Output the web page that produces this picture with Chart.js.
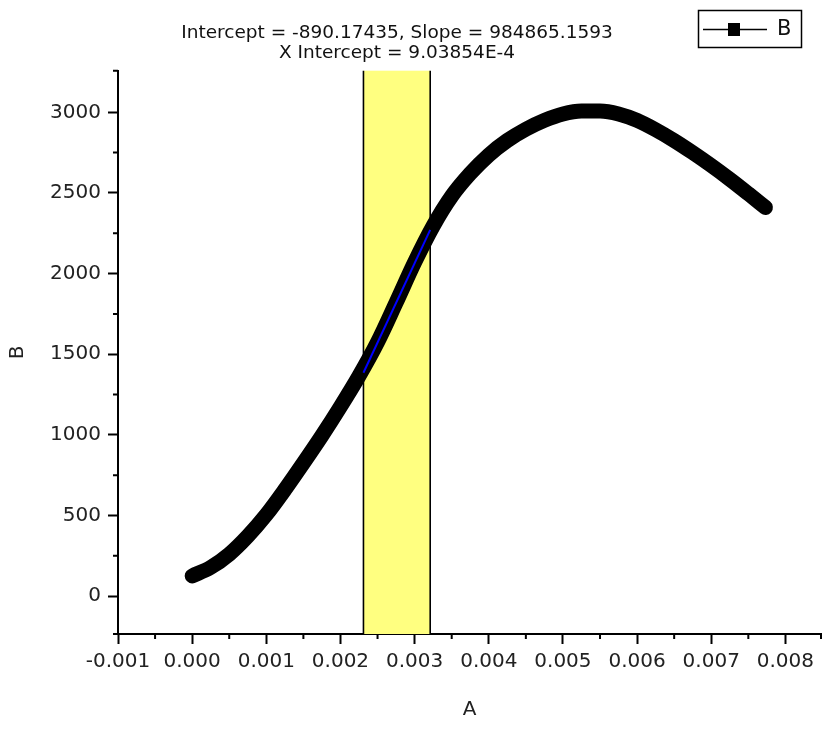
<!DOCTYPE html>
<html>
<head>
<meta charset="utf-8">
<script src="https://cdn.jsdelivr.net/npm/chart.js@4.4.1/dist/chart.umd.min.js"></script>
<style>
  html, body { margin: 0; padding: 0; background: #fff; }
</style>
</head>
<body>
<canvas id="fitChart" width="827" height="731"></canvas>
<script>
// measured curve (A vs B)
const xValues = [0, 0.00025, 0.0005, 0.00075, 0.001, 0.00125, 0.0015, 0.00175, 0.002, 0.00225,
  0.0025, 0.00275, 0.003, 0.00325, 0.0035, 0.00375, 0.004, 0.00425, 0.0045, 0.00475,
  0.005, 0.00525, 0.0055, 0.00575, 0.006, 0.00625, 0.0065, 0.00675, 0.007, 0.00725, 0.0075, 0.00773];
const yValues = [125, 178, 260, 372, 505, 660, 825, 995, 1175, 1365,
  1575, 1820, 2070, 2295, 2480, 2620, 2735, 2825, 2895, 2950,
  2990, 3008, 3008, 2990, 2950, 2892, 2825, 2750, 2670, 2585, 2495, 2410];

// linear fit over the selected range
const fitX = [0.00231, 0.00321];
const fitY = [1385, 2271];
const bandRange = [0.00231, 0.00321];

const titleLines = ['Intercept = -890.17435, Slope = 984865.1593', 'X Intercept = 9.03854E-4'];

const xRange = [-0.001, 0.00848];
const yRange = [-235, 3258];
const xTicks = [-0.001, 0, 0.001, 0.002, 0.003, 0.004, 0.005, 0.006, 0.007, 0.008];
const xTickLabels = ['-0.001', '0.000', '0.001', '0.002', '0.003', '0.004', '0.005', '0.006', '0.007', '0.008'];
const xMinor = [-0.0005, 0.0005, 0.0015, 0.0025, 0.0035, 0.0045, 0.0055, 0.0065, 0.0075, 0.00848];
const yTicks = [0, 500, 1000, 1500, 2000, 2500, 3000];
const yTickLabels = ['0', '500', '1000', '1500', '2000', '2500', '3000'];
const yMinor = [-235, 250, 750, 1250, 1750, 2250, 2750, 3258];

const FONT = 'DejaVu Sans';

// yellow selection band behind the data
const bandPlugin = {
  id: 'band',
  beforeDatasetsDraw(chart) {
    const { ctx, chartArea, scales: { x } } = chart;
    const l = x.getPixelForValue(bandRange[0]);
    const r = x.getPixelForValue(bandRange[1]);
    ctx.save();
    ctx.fillStyle = '#ffff80';
    ctx.fillRect(l, chartArea.top, r - l, chartArea.bottom - chartArea.top);
    ctx.strokeStyle = '#000';
    ctx.lineWidth = 1.6;
    ctx.beginPath();
    ctx.moveTo(l, chartArea.top); ctx.lineTo(l, chartArea.bottom);
    ctx.moveTo(r, chartArea.top); ctx.lineTo(r, chartArea.bottom);
    ctx.stroke();
    ctx.restore();
  }
};

// short minor ticks, Origin style
const minorTicks = {
  id: 'minorTicks',
  afterDraw(chart) {
    const { ctx, chartArea, scales: { x, y } } = chart;
    ctx.save();
    ctx.strokeStyle = '#000';
    ctx.lineWidth = 2;
    ctx.beginPath();
    xMinor.forEach(v => {
      const px = x.getPixelForValue(v);
      ctx.moveTo(px, chartArea.bottom);
      ctx.lineTo(px, chartArea.bottom + 5);
    });
    yMinor.forEach(v => {
      const py = y.getPixelForValue(v);
      ctx.moveTo(chartArea.left, py);
      ctx.lineTo(chartArea.left - 5, py);
    });
    ctx.stroke();
    ctx.restore();
  }
};

// boxed legend in the top right corner
const boxLegend = {
  id: 'boxLegend',
  afterDraw(chart) {
    const ds = chart.data.datasets[1];
    const { ctx } = chart;
    ctx.save();
    ctx.strokeStyle = '#000';
    ctx.lineWidth = 1.5;
    ctx.strokeRect(698.5, 10.5, 103, 37);
    ctx.beginPath();
    ctx.moveTo(703, 29.5);
    ctx.lineTo(767, 29.5);
    ctx.stroke();
    ctx.fillStyle = ds.borderColor;
    ctx.fillRect(728, 23, 12, 13);
    ctx.fillStyle = '#111';
    ctx.font = '21px "' + FONT + '"';
    ctx.textBaseline = 'middle';
    ctx.fillText(ds.label, 777, 30);
    ctx.restore();
  }
};

// title is centred over the plot, not the canvas
const titleShift = {
  id: 'titleShift',
  afterLayout(chart) {
    const t = chart.titleBlock;
    if (t) t.right = t.left + 794;
  }
};

const ctx = document.getElementById('fitChart').getContext('2d');

const fitChart = new Chart(ctx, {
  type: 'line',
  data: {
    datasets: [
      {
        label: 'Linear Fit',
        data: fitX.map((x, i) => ({ x: x, y: fitY[i] })),
        borderColor: '#0000ff',
        borderWidth: 2,
        pointRadius: 0,
        order: 0,
      },
      {
        label: 'B',
        data: xValues.map((x, i) => ({ x: x, y: yValues[i] })),
        borderColor: '#000',
        backgroundColor: '#000',
        borderWidth: 15,
        borderJoinStyle: 'round',
        borderCapStyle: 'round',
        cubicInterpolationMode: 'monotone',
        pointStyle: 'rect',
        pointRadius: 0,
        order: 1,
      },
    ],
  },
  options: {
    responsive: false,
    animation: false,
    events: [],
    devicePixelRatio: 1,
    layout: { padding: { left: 0, right: 6, top: 0, bottom: 0 } },
    plugins: {
      legend: { display: false },
      tooltip: { enabled: false },
      title: {
        display: true,
        text: titleLines,
        color: '#111',
        font: { family: FONT, size: 18.5, weight: 'normal', lineHeight: 1.1 },
        padding: { top: 23, bottom: 7 },
      },
    },
    scales: {
      x: {
        type: 'linear',
        min: xRange[0],
        max: xRange[1],
        afterBuildTicks: (scale) => { scale.ticks = xTicks.map(v => ({ value: v })); },
        afterFit: (scale) => { scale.height = 97; },
        ticks: {
          autoSkip: false,
          maxRotation: 0,
          padding: 6,
          color: '#222',
          font: { family: FONT, size: 20 },
          callback: (value, index) => xTickLabels[index],
        },
        grid: { drawOnChartArea: false, tickLength: 10, tickWidth: 2, tickColor: '#000' },
        border: { display: true, color: '#000', width: 2 },
        title: {
          display: true,
          text: 'A',
          color: '#222',
          font: { family: FONT, size: 20 },
          padding: { top: 0, bottom: 9 },
        },
      },
      y: {
        type: 'linear',
        min: yRange[0],
        max: yRange[1],
        afterBuildTicks: (scale) => { scale.ticks = yTicks.map(v => ({ value: v })); },
        afterFit: (scale) => { scale.width = 118; },
        ticks: {
          padding: 7,
          color: '#222',
          font: { family: FONT, size: 20 },
          callback: (value, index) => yTickLabels[index],
        },
        grid: { drawOnChartArea: false, tickLength: 10, tickWidth: 2, tickColor: '#000' },
        border: { display: true, color: '#000', width: 2 },
        title: {
          display: true,
          text: 'B',
          color: '#222',
          font: { family: FONT, size: 20 },
          padding: { top: 6, bottom: 0 },
        },
      },
    },
  },
  plugins: [bandPlugin, minorTicks, boxLegend, titleShift],
});
</script>
</body>
</html>
